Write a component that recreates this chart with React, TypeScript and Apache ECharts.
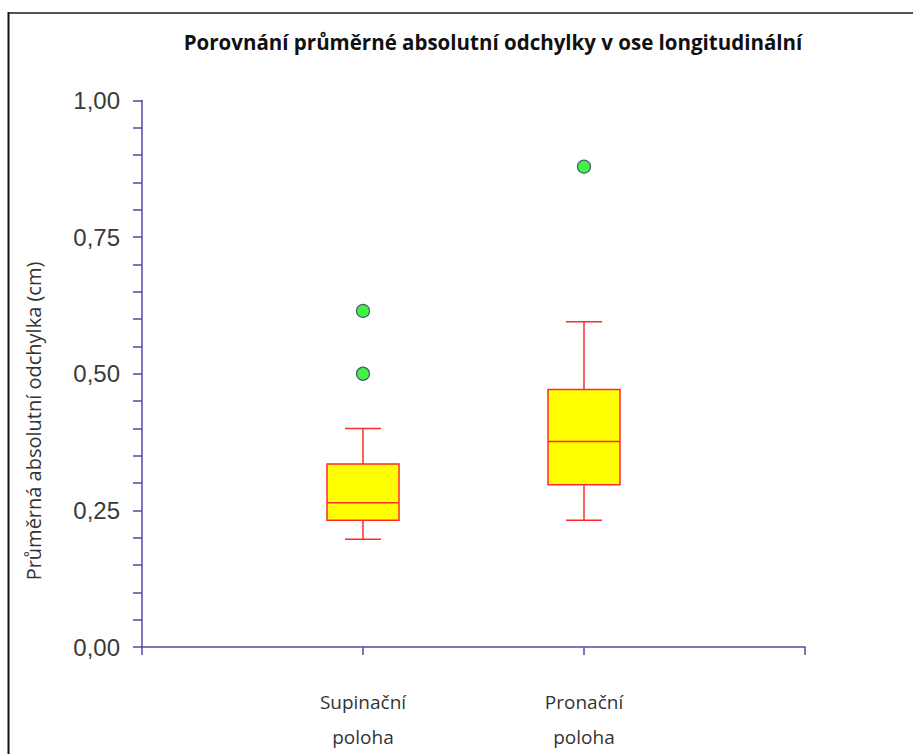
import React, { useEffect, useRef } from "react";
import * as echarts from "echarts";

const titleText = "Porovnání průměrné absolutní odchylky v ose longitudinální";
const yAxisTitle = "Průměrná absolutní odchylka (cm)";
const categories = ["Supinační\npoloha", "Pronační\npoloha"];
// [min, Q1, median, Q3, max]
const supineStats = [0.197, 0.232, 0.264, 0.335, 0.4];
const proneStats = [0.232, 0.297, 0.376, 0.471, 0.595];
const supineOutliers = [0.615, 0.5];
const proneOutliers = [0.879];
const yTicks = { min: 0, max: 1, interval: 0.25 };

export default function App() {
  const ref = useRef<HTMLDivElement>(null);
  useEffect(() => {
    if (!ref.current) return;
    const chart = echarts.init(ref.current, null, { renderer: "svg" });
    const axisData = ["", ...categories, ""];
    const boxData = [
      [1, ...supineStats],
      [2, ...proneStats],
    ];
    const outlierData = [
      ...supineOutliers.map((v) => [1, v]),
      ...proneOutliers.map((v) => [2, v]),
    ];
    const axisColor = "#4d4d9c";
    const red = "#ff2a2a";
    const boxW = 72;
    const capW = 36;
    chart.setOption({
      animation: false,
      backgroundColor: "#ffffff",
      grid: { left: 142, right: 108, top: 100.5, bottom: 100, containLabel: false },
      xAxis: {
        type: "category",
        data: axisData,
        boundaryGap: false,
        axisLine: { lineStyle: { color: axisColor, width: 1.5 } },
        axisTick: { show: true, length: 8, alignWithLabel: true, lineStyle: { color: axisColor, width: 1.5 } },
        axisLabel: {
          interval: 0,
          margin: 37,
          color: "#333333",
          fontFamily: "Open Sans",
          fontSize: 19,
          lineHeight: 35,
        },
        splitLine: { show: false },
      },
      yAxis: {
        type: "value",
        min: yTicks.min,
        max: yTicks.max,
        interval: yTicks.interval,
        axisLine: { show: true, lineStyle: { color: axisColor, width: 1.5 } },
        axisTick: { show: true, length: 9, lineStyle: { color: axisColor, width: 1.5 } },
        minorTick: { show: true, splitNumber: 5, length: 9, lineStyle: { color: axisColor, width: 1.5 } },
        axisLabel: {
          margin: 22,
          color: "#3a3a3a",
          fontFamily: "Liberation Sans",
          fontSize: 24,
          formatter: (v: number) => v.toFixed(2).replace(".", ","),
        },
        splitLine: { show: false },
      },
      graphic: [
        {
          type: "line",
          shape: { x1: 8, y1: 13, x2: 913, y2: 13 },
          style: { stroke: "#555555", lineWidth: 2 },
          silent: true,
        },
        {
          type: "line",
          shape: { x1: 8.5, y1: 12, x2: 8.5, y2: 754 },
          style: { stroke: "#111111", lineWidth: 2 },
          silent: true,
        },
        {
          type: "text",
          x: 493,
          y: 42,
          style: {
            text: titleText,
            fontFamily: "Open Sans",
            fontWeight: "bold",
            fontSize: 20.5,
            fill: "#111111",
            textAlign: "center",
            textVerticalAlign: "middle",
          },
        },
        {
          type: "text",
          x: 33,
          y: 421,
          rotation: Math.PI / 2,
          style: {
            text: yAxisTitle,
            fontFamily: "Open Sans",
            fontSize: 20,
            fill: "#333333",
            textAlign: "center",
            textVerticalAlign: "middle",
          },
        },
      ],
      series: [
        {
          type: "custom",
          data: boxData,
          encode: { x: 0, y: [1, 2, 3, 4, 5] },
          renderItem: (params: any, api: any) => {
            const x = api.value(0);
            const vals = [1, 2, 3, 4, 5].map((i) => api.value(i));
            const pts = vals.map((v) => api.coord([x, v]));
            const cx = pts[0][0];
            const ln = (x1: number, y1: number, x2: number, y2: number) => ({
              type: "line",
              shape: { x1, y1, x2, y2 },
              style: { stroke: red, lineWidth: 1.5 },
            });
            return {
              type: "group",
              children: [
                ln(cx, pts[0][1], cx, pts[1][1]),
                ln(cx, pts[3][1], cx, pts[4][1]),
                ln(cx - capW / 2, pts[0][1], cx + capW / 2, pts[0][1]),
                ln(cx - capW / 2, pts[4][1], cx + capW / 2, pts[4][1]),
                {
                  type: "rect",
                  shape: { x: cx - boxW / 2, y: pts[3][1], width: boxW, height: pts[1][1] - pts[3][1] },
                  style: { fill: "#ffff00", stroke: red, lineWidth: 1.5 },
                },
                ln(cx - boxW / 2, pts[2][1], cx + boxW / 2, pts[2][1]),
              ],
            };
          },
        },
        {
          type: "scatter",
          data: outlierData,
          symbol: "circle",
          symbolSize: 13,
          itemStyle: { color: "#14f014", borderColor: "#2e2e6e", borderWidth: 1.2 },
        },
      ],
    });
    return () => chart.dispose();
  }, []);
  return (
    <div
      ref={ref}
      style={{ position: "absolute", left: 0, top: 0, width: 913, height: 754, background: "#fff" }}
    />
  );
}
